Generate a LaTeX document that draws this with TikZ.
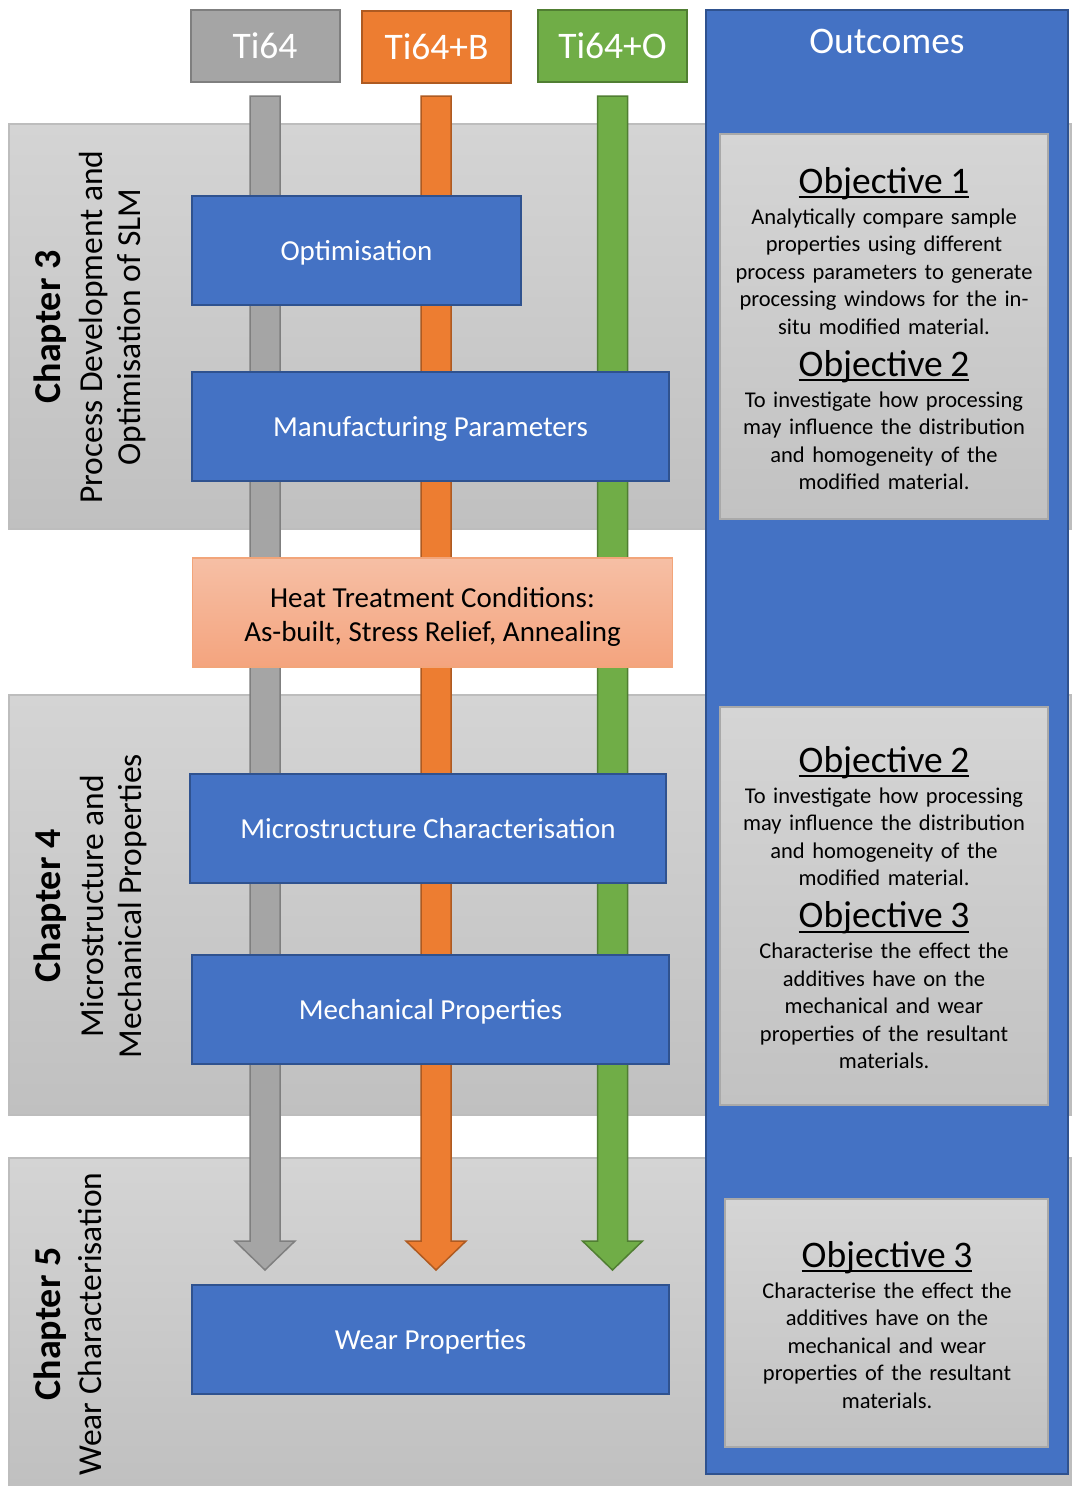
\documentclass[tikz,border=0pt]{standalone}
\usepackage{fontspec}
\setmainfont{Carlito}
\usetikzlibrary{calc}
\definecolor{grayF}{HTML}{A5A5A5}
\definecolor{grayD}{HTML}{7F7F7F}
\definecolor{orangeF}{HTML}{ED7D31}
\definecolor{orangeD}{HTML}{AE5A21}
\definecolor{greenF}{HTML}{70AD47}
\definecolor{greenD}{HTML}{507E32}
\definecolor{blueF}{HTML}{4472C4}
\definecolor{blueD}{HTML}{2F528F}
\definecolor{bandT}{HTML}{D4D4D4}
\definecolor{bandB}{HTML}{C0C0C0}
\definecolor{bandE}{HTML}{BDBDBD}
\definecolor{objT}{HTML}{D5D5D5}
\definecolor{objB}{HTML}{C2C2C2}
\definecolor{objE}{HTML}{A9A9A9}
\definecolor{heatT}{HTML}{F6BFA5}
\definecolor{heatB}{HTML}{F4A47E}
\definecolor{heatE}{HTML}{F2A57A}
\newsavebox\objbox
\newcommand\objul[1]{\sbox\objbox{#1}\leavevmode\rlap{\rule[-5pt]{\wd\objbox}{2pt}}\usebox\objbox}
\newcommand\objstart{\centering\lineskiplimit=-100pt\parskip=0pt\relax}
\newcommand\objtitle[1]{{\fontsize{37.5}{42}\selectfont\objul{#1}\par}\vspace{3.5pt}}
\newcommand\objbody[1]{{\fontsize{22.5}{27.5}\selectfont #1\par}}
\newcommand\fatarrow[4]{%
  \filldraw[fill=#3, draw=#4, line width=1.5pt, line join=miter]
    ($(#1)+(-15,0)$) -- ($(#1)+(15,0)$) -- ($(#2)+(15,-29)$) -- ($(#2)+(30,-29)$)
    -- (#2) -- ($(#2)+(-30,-29)$) -- ($(#2)+(-15,-29)$) -- cycle;}
\begin{document}
\begin{tikzpicture}[x=1pt,y=-1pt,
  hdr/.style={rectangle, minimum width=149, minimum height=72, inner sep=0,
    line width=2pt, text=white, font=\fontsize{37.5}{40}\selectfont},
  bluebox/.style={rectangle, minimum height=109, inner sep=0, fill=blueF,
    draw=blueD, line width=1.5pt, text=white, text height=24pt, text depth=4pt,
    font=\fontsize{29}{34}\selectfont},
  band/.style={top color=bandT, bottom color=bandB, draw=bandE, line width=1.2pt},
  objbox/.style={rectangle, inner sep=0, top color=objT, bottom color=objB,
    draw=objE, line width=1.2pt},
  objtext/.style={text width=360, inner sep=0, anchor=base,
    font=\fontsize{22.5}{27.5}\selectfont},
  chapb/.style={rotate=90, anchor=base, inner sep=0,
    font=\bfseries\fontsize{38}{40}\selectfont},
  chapt/.style={rotate=90, anchor=base, inner sep=0,
    font=\fontsize{33.5}{38}\selectfont}]
\useasboundingbox (0,0) rectangle (1071,1486);
\fill[white] (0,0) rectangle (1071,1486);

% chapter bands
\path[band] (9,124) rectangle (1071,529);
\path[band] (9,695) rectangle (1071,1115);
\path[band] (9,1158) rectangle (1071,1487);

% material headers
\node[hdr, fill=grayF, draw=grayD] (ti) at (265,46) {Ti64};
\node[hdr, fill=orangeF, draw=orangeD] (tib) at (436.5,47) {Ti64+B};
\node[hdr, fill=greenF, draw=greenD] (tio) at (612.5,46) {Ti64+O};

% arrows
\coordinate (g0) at (265,96);   \coordinate (g1) at (265,1270);
\coordinate (b0) at (436,96);   \coordinate (b1) at (436,1270);
\coordinate (o0) at (612.5,96); \coordinate (o1) at (612.5,1270);
\fatarrow{g0}{g1}{grayF}{grayD}
\fatarrow{b0}{b1}{orangeF}{orangeD}
\fatarrow{o0}{o1}{greenF}{greenD}

% process boxes
\node[bluebox, minimum width=329] (opt) at (356.5,250.5) {Optimisation};
\node[bluebox, minimum width=477] (man) at (430.5,426.5) {Manufacturing Parameters};
\node[rectangle, minimum width=480, minimum height=109, inner sep=0,
  top color=heatT, bottom color=heatB, draw=heatE, line width=1.5pt,
  align=center, font=\fontsize{29}{34}\selectfont] (heat) at (432.5,612.5)
  {\rule{0pt}{28pt}Heat Treatment Conditions:\\As-built, Stress Relief, Annealing};
\node[bluebox, minimum width=476] (mic) at (428,828.5) {Microstructure Characterisation};
\node[bluebox, minimum width=477] (mec) at (430.5,1009.5) {Mechanical Properties};
\node[bluebox, minimum width=477] (wea) at (430.5,1339.5) {Wear Properties};

% chapter labels
\node[chapb] (c3a) at (60,327) {Chapter 3};
\node[chapt] (c3b) at (102,327) {Process Development and};
\node[chapt] (c3c) at (140,327) {Optimisation of SLM};
\node[chapb] (c4a) at (60,906) {Chapter 4};
\node[chapt] (c4b) at (103,906) {Microstructure and};
\node[chapt] (c4c) at (141,906) {Mechanical Properties};
\node[chapb] (c5a) at (60,1324) {Chapter 5};
\node[chapt] (c5b) at (101,1324) {Wear Characterisation};

% outcomes panel
\node[rectangle, minimum width=362, minimum height=1464, inner sep=0,
  fill=blueF, draw=blueD, line width=2pt] (out) at (887,742) {};
\node[text=white, inner sep=0, font=\fontsize{37.5}{40}\selectfont] (outt) at (887,41) {Outcomes};

\node[objbox, minimum width=328, minimum height=385] (ob1) at (884,326.5) {};
\node[objbox, minimum width=328, minimum height=398] (ob2) at (884,906) {};
\node[objbox, minimum width=323, minimum height=248] (ob3) at (886.5,1323) {};

\node[objtext] (ob1t) at (884,193) {\objstart
\objtitle{Objective 1}
\objbody{Analytically compare sample\\properties using different\\process parameters to generate\\processing windows for the in-\\situ modified material.}
\objtitle{Objective 2}
\objbody{To investigate how processing\\may influence the distribution\\and homogeneity of the\\modified material.}};

\node[objtext] (ob2t) at (884,772) {\objstart
\objtitle{Objective 2}
\objbody{To investigate how processing\\may influence the distribution\\and homogeneity of the\\modified material.}
\objtitle{Objective 3}
\objbody{Characterise the effect the\\additives have on the\\mechanical and wear\\properties of the resultant\\materials.}};

\node[objtext] (ob3t) at (887,1267) {\objstart
\objtitle{Objective 3}
\objbody{Characterise the effect the\\additives have on the\\mechanical and wear\\properties of the resultant\\materials.}};
\end{tikzpicture}
\end{document}
